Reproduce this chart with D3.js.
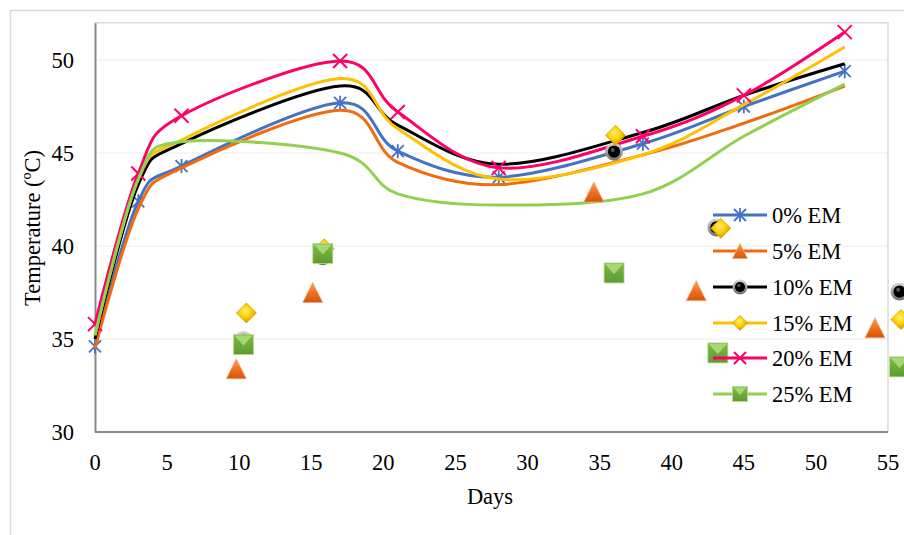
<!DOCTYPE html>
<html>
<head>
<meta charset="utf-8">
<script src="https://cdn.jsdelivr.net/npm/d3@7"></script>
<style>
body { margin: 0; background: #fff; }
text { font-family: "Liberation Serif", "Times New Roman", serif; fill: #000; }
</style>
</head>
<body>
<svg id="chart" width="904" height="535"></svg>
<script>
// sampling days and temperatures (ºC) per treatment
var days = [0, 3, 6, 17, 21, 28, 38, 45, 52];
var em0  = [34.6, 42.4, 44.3, 47.7, 45.1, 43.7, 45.5, 47.5, 49.4];
var em5  = [34.5, 42.0, 44.2, 47.3, 44.5, 43.3, 44.9, 46.6, 48.6];
var em10 = [35.0, 43.3, 45.5, 48.6, 46.5, 44.4, 46.1, 48.1, 49.8];
var em15 = [35.2, 43.6, 45.7, 49.0, 46.3, 43.6, 44.9, 47.6, 50.7];
var em20 = [35.8, 43.9, 47.0, 49.95, 47.2, 44.2, 45.9, 48.1, 51.5];
var em25 = [35.2, 43.6, 45.6, 45.0, 42.8, 42.2, 42.8, 45.9, 48.7];

// markers that sit away from their lines in the picture
var triDays = [9.8, 15.1, 34.6, 41.7, 54.1];
var triVals = [33.4, 37.5, 42.9, 37.6, 35.6];
var dotDays = [10.3, 15.8, 36.0, 43.1, 55.8];
var dotVals = [34.95, 39.45, 45.07, 41.0, 37.55];
var diaDays = [10.5, 15.9, 36.1, 43.4, 55.9];
var diaVals = [36.4, 39.85, 45.95, 40.95, 36.05];
var sqDays  = [10.3, 15.8, 36.0, 43.2, 55.8];
var sqVals  = [34.7, 39.6, 38.55, 34.25, 33.5];

var names = ["0% EM", "5% EM", "10% EM", "15% EM", "20% EM", "25% EM"];
var colors = ["#4472C4", "#F26B0F", "#000000", "#FFC000", "#FF0066", "#92D050"];
var markers = ["star", "triangle", "circle", "diamond", "cross", "square"];
var xTicks = [0, 5, 10, 15, 20, 25, 30, 35, 40, 45, 50, 55];
var yTicks = [30, 35, 40, 45, 50];

var svg = d3.select("#chart");
var x = d3.scaleLinear().domain([0, 55]).range([95, 888]);
var y = d3.scaleLinear().domain([30, 52]).range([432, 22.8]);

// gradients for the bevelled markers
var defs = svg.append("defs");
function grad(id, stops, radial) {
    var g = radial ? defs.append("radialGradient").attr("id", id).attr("cx", "45%").attr("cy", "40%").attr("r", "60%")
                   : defs.append("linearGradient").attr("id", id).attr("x1", 0).attr("y1", 0).attr("x2", 0).attr("y2", 1);
    stops.forEach(function(s) {
        g.append("stop").attr("offset", s[0]).attr("stop-color", s[1]);
    });
}
grad("gTri", [["0%", "#F7A05A"], ["55%", "#EE6E1C"], ["100%", "#D2560A"]]);
grad("gDia", [["0%", "#FFF27A"], ["50%", "#FFD000"], ["100%", "#C99600"]], true);
grad("gSq", [["0%", "#7DBB47"], ["100%", "#5E9A2E"]]);
grad("gRing", [["0%", "#D8D8D8"], ["100%", "#6E6E6E"]]);

// chart frame
svg.append("path").attr("d", "M10.5,535 V10.5 H904").attr("fill", "none").attr("stroke", "#d9d9d9").attr("stroke-width", 1.5);

// grid
svg.append("g").selectAll("line").data(yTicks.slice(1)).enter().append("line")
    .attr("x1", x(0)).attr("x2", x(55))
    .attr("y1", function(d) { return y(d); }).attr("y2", function(d) { return y(d); })
    .attr("stroke", "#ececec").attr("stroke-width", 1);

svg.append("path").attr("d", "M" + x(0) + "," + y(52) + " H" + x(55) + " V" + y(30))
    .attr("fill", "none").attr("stroke", "#d9d9d9").attr("stroke-width", 1.5);

var yAxis = svg.append("g").attr("transform", "translate(" + x(0) + ",0)")
    .call(d3.axisLeft(y).tickValues(yTicks).tickSize(0).tickPadding(21));
yAxis.attr("font-family", null).attr("font-size", null);
yAxis.selectAll("text").style("font-size", "22.5px").attr("fill", "#000");

// x axis line and labels
svg.append("line").attr("x1", x(0)).attr("x2", x(55)).attr("y1", y(30)).attr("y2", y(30))
    .attr("stroke", "#8a8a8a").attr("stroke-width", 2);
yAxis.select(".domain").attr("stroke", "#8a8a8a").attr("stroke-width", 2);
svg.append("g").selectAll("text").data(xTicks).enter().append("text")
    .attr("x", function(d) { return x(d); })
    .attr("y", y(30) + 38)
    .attr("text-anchor", "middle")
    .style("font-size", "22.5px")
    .text(function(d) { return String(d); });

svg.append("text").attr("x", 490).attr("y", 504).attr("text-anchor", "middle")
    .style("font-size", "22.5px").text("Days");
svg.append("text").attr("transform", "translate(40,228) rotate(-90)").attr("text-anchor", "middle")
    .style("font-size", "22.5px").text("Temperature (ºC)");

function drawMarker(g, type, cx, cy, s) {
    var h = s / 2;
    if (type == "star") {
        g.append("path").attr("d", "M" + (cx - h) + "," + (cy - h) + "L" + (cx + h) + "," + (cy + h) +
            "M" + (cx + h) + "," + (cy - h) + "L" + (cx - h) + "," + (cy + h) +
            "M" + cx + "," + (cy - h - 1) + "V" + (cy + h + 1))
            .attr("stroke", colors[0]).attr("stroke-width", 1.8).attr("fill", "none");
    } else if (type == "cross") {
        g.append("path").attr("d", "M" + (cx - h) + "," + (cy - h) + "L" + (cx + h) + "," + (cy + h) +
            "M" + (cx + h) + "," + (cy - h) + "L" + (cx - h) + "," + (cy + h))
            .attr("stroke", colors[4]).attr("stroke-width", 2).attr("fill", "none");
    } else if (type == "triangle") {
        g.append("path").attr("d", "M" + cx + "," + (cy - h) + "L" + (cx + h) + "," + (cy + h) + "L" + (cx - h) + "," + (cy + h) + "Z")
            .attr("fill", "url(#gTri)").attr("stroke", "#F5A878").attr("stroke-width", 0.8);
    } else if (type == "diamond") {
        g.append("path").attr("d", "M" + cx + "," + (cy - h) + "L" + (cx + h) + "," + cy + "L" + cx + "," + (cy + h) + "L" + (cx - h) + "," + cy + "Z")
            .attr("fill", "url(#gDia)").attr("stroke", "#D9A400").attr("stroke-width", 0.8);
    } else if (type == "circle") {
        g.append("circle").attr("cx", cx).attr("cy", cy).attr("r", h).attr("fill", "url(#gRing)");
        g.append("circle").attr("cx", cx).attr("cy", cy).attr("r", h * 0.68).attr("fill", "#000");
        g.append("circle").attr("cx", cx - h * 0.15).attr("cy", cy - h * 0.2).attr("r", h * 0.22).attr("fill", "#555");
    } else if (type == "square") {
        g.append("rect").attr("x", cx - h).attr("y", cy - h).attr("width", s).attr("height", s)
            .attr("fill", "url(#gSq)").attr("stroke", "#B9DC93").attr("stroke-width", 0.8);
        g.append("path").attr("d", "M" + (cx - h + 1) + "," + (cy - h + 1) + "L" + (cx + h - 1) + "," + (cy - h + 1) + "L" + cx + "," + (cy + 1) + "Z")
            .attr("fill", "#A8D874");
    }
}

var line = d3.line()
    .x(function(d) { return x(d[0]); })
    .y(function(d) { return y(d[1]); })
    .curve(d3.curveCardinal.tension(0));

var seriesVals = [em0, em5, em10, em15, em20, em25];
var loose = {
    1: [triDays, triVals],
    2: [dotDays, dotVals],
    3: [diaDays, diaVals],
    5: [sqDays, sqVals]
};

var plot = svg.append("g");
seriesVals.forEach(function(vals, i) {
    var pts = days.map(function(d, k) { return [d, vals[k]]; });
    plot.append("path").datum(pts).attr("d", line)
        .attr("fill", "none").attr("stroke", colors[i]).attr("stroke-width", 3);
    if (i == 0 || i == 4) {
        pts.forEach(function(p) { drawMarker(plot, markers[i], x(p[0]), y(p[1]), i == 0 ? 12 : 14); });
    }
});
// loose markers drawn on top in series order
[1, 2, 3, 5].forEach(function(i) {
    var dd = loose[i][0], vv = loose[i][1];
    dd.forEach(function(d, k) {
        drawMarker(plot, markers[i], x(d), y(vv[k]), i == 2 ? 18 : 20);
    });
});

// legend
var legY = [215, 251, 287, 323, 358, 394];
var leg = svg.append("g");
names.forEach(function(n, i) {
    leg.append("line").attr("x1", 713).attr("x2", 767).attr("y1", legY[i]).attr("y2", legY[i])
        .attr("stroke", colors[i]).attr("stroke-width", 3);
    var s = (i == 0 || i == 4) ? 12 : 15;
    drawMarker(leg, markers[i], 740, legY[i], s);
    leg.append("text").attr("x", 772).attr("y", legY[i]).attr("dy", "0.35em")
        .style("font-size", "22.5px").text(n);
});
</script>
</body>
</html>
